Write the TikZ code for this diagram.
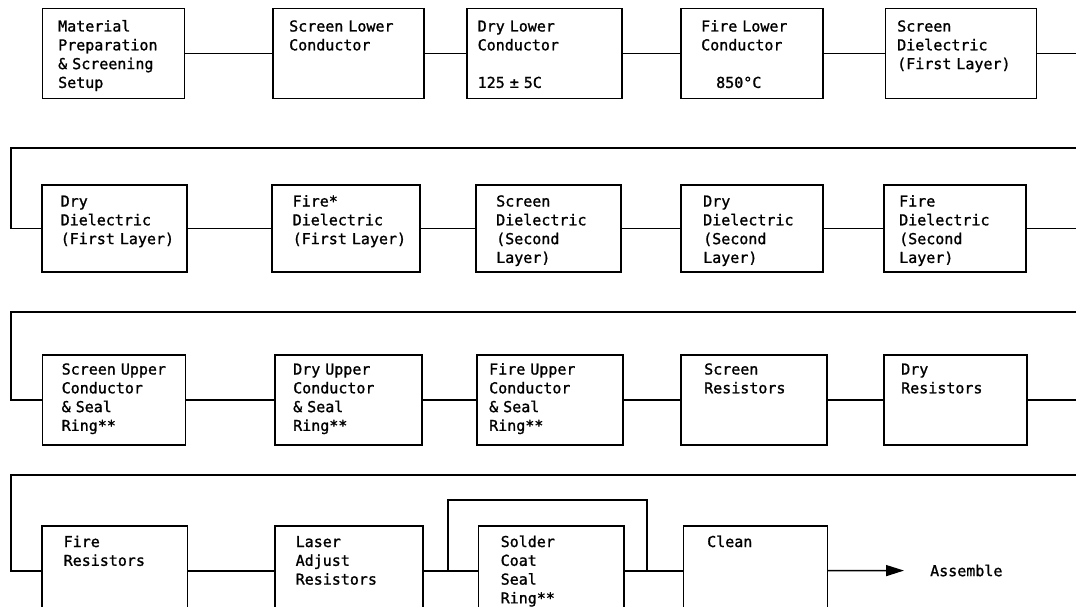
\documentclass[tikz,border=0pt]{standalone}
\usepackage{fontspec}
\newfontfamily\stepfont[UprightFeatures={FakeBold=1.2}, WordSpace={1,0,0}]{DejaVu Sans Mono}
\usetikzlibrary{arrows.meta}

\begin{document}
\begin{tikzpicture}[
  x=1pt, y=-1pt,
  every node/.style={font={\stepfont\fontsize{15}{18.8}\selectfont}},
  box/.style={draw=black, line width=1.5pt, anchor=north west, inner sep=0pt, minimum height=90pt},
  txt/.style={anchor=base west, inner sep=0pt, align=left, text width=130pt},
  conn/.style={line width=1.5pt},
  arr/.style={-{Triangle[length=18pt, width=11pt]}, line width=1.5pt}
]
\useasboundingbox (0,0) rectangle (1076,607);
\fill[white] (0,0) rectangle (1076,607);
\clip (0,0) rectangle (1076,607);

% row 1
\node[box, minimum width=142pt] (matprep) at (41.5,8) {};
\node[box, minimum width=151pt] (scrLow) at (272,8) {};
\node[box, minimum width=155pt] (dryLow) at (466,8) {};
\node[box, minimum width=142pt] (fireLow) at (680,8) {};
\node[box, minimum width=151pt] (scrDiel1) at (884.5,8) {};
\node[txt] (matprepT) at ([shift={(16.5,23.5)}]matprep.north west) {Material\\Preparation\\\& Screening\\Setup};
\node[txt] (scrLowT) at ([shift={(17,23.5)}]scrLow.north west) {Screen Lower\\Conductor};
\node[txt] (dryLowT) at ([shift={(11.5,23.5)}]dryLow.north west) {Dry Lower\\Conductor\\[18.8pt]125 ± 5C};
\node[txt] (fireLowT) at ([shift={(21,23.5)}]fireLow.north west) {Fire Lower\\Conductor\\[18.8pt]\hspace*{15pt}850°C};
\node[txt] (scrDiel1T) at ([shift={(12.5,23.5)}]scrDiel1.north west) {Screen\\Dielectric\\(First Layer)};

% row 2
\node[box, minimum width=145pt, minimum height=87pt] (dryDiel1) at (41,184) {};
\node[box, minimum width=148pt, minimum height=87pt] (fireDiel1) at (271,184) {};
\node[box, minimum width=145pt, minimum height=87pt] (scrDiel2) at (475,184) {};
\node[box, minimum width=142pt, minimum height=87pt] (dryDiel2) at (680,184) {};
\node[box, minimum width=142pt, minimum height=87pt] (fireDiel2) at (883,184) {};
\node[txt] (dryDiel1T) at ([shift={(19.5,22.5)}]dryDiel1.north west) {Dry\\Dielectric\\(First Layer)};
\node[txt] (fireDiel1T) at ([shift={(21.5,22.5)}]fireDiel1.north west) {Fire*\\Dielectric\\(First Layer)};
\node[txt] (scrDiel2T) at ([shift={(21,22.5)}]scrDiel2.north west) {Screen\\Dielectric\\(Second\\Layer)};
\node[txt] (dryDiel2T) at ([shift={(23,22.5)}]dryDiel2.north west) {Dry\\Dielectric\\(Second\\Layer)};
\node[txt] (fireDiel2T) at ([shift={(16,22.5)}]fireDiel2.north west) {Fire\\Dielectric\\(Second\\Layer)};

% row 3
\node[box, minimum width=143pt] (scrUp) at (41.5,354) {};
\node[box, minimum width=147pt] (dryUp) at (274,354) {};
\node[box, minimum width=146pt] (fireUp) at (476,354) {};
\node[box, minimum width=146pt] (scrRes) at (680,354) {};
\node[box, minimum width=143pt] (dryRes) at (883,354) {};
\node[txt] (scrUpT) at ([shift={(20,20.5)}]scrUp.north west) {Screen Upper\\Conductor\\\& Seal\\Ring**};
\node[txt] (dryUpT) at ([shift={(19,20.5)}]dryUp.north west) {Dry Upper\\Conductor\\\& Seal\\Ring**};
\node[txt] (fireUpT) at ([shift={(13,20.5)}]fireUp.north west) {Fire Upper\\Conductor\\\& Seal\\Ring**};
\node[txt] (scrResT) at ([shift={(24,20.5)}]scrRes.north west) {Screen\\Resistors};
\node[txt] (dryResT) at ([shift={(18,20.5)}]dryRes.north west) {Dry\\Resistors};

% row 4
\node[box, minimum width=145.5pt] (fireRes) at (41,525) {};
\node[box, minimum width=148pt] (laser) at (274,525) {};
\node[box, minimum width=145.5pt] (solder) at (477.5,525) {};
\node[box, minimum width=144pt] (clean) at (682.5,525) {};
\node[txt] (fireResT) at ([shift={(22.5,22)}]fireRes.north west) {Fire\\Resistors};
\node[txt] (laserT) at ([shift={(21.5,22)}]laser.north west) {Laser\\Adjust\\Resistors};
\node[txt] (solderT) at ([shift={(23,22)}]solder.north west) {Solder\\Coat\\Seal\\Ring**};
\node[txt] (cleanT) at ([shift={(24.5,22)}]clean.north west) {Clean};
\node[anchor=west, inner sep=0pt] (assemble) at (930,570.5) {Assemble};

% flow
\coordinate (ret1R) at (1100,148);
\coordinate (ret1L) at (11,148);
\coordinate (ret2R) at (1100,312);
\coordinate (ret2L) at (11,312);
\coordinate (ret3R) at (1100,475);
\coordinate (ret3L) at (11,475);
\coordinate (byL) at (448,570.5);
\coordinate (byTop) at (547,500);
\coordinate (byR) at (647,570.5);

\draw[conn] (matprep) -- (scrLow);
\draw[conn] (scrLow) -- (dryLow);
\draw[conn] (dryLow) -- (fireLow);
\draw[conn] (fireLow) -- (scrDiel1);
\draw[conn] (scrDiel1) -| (ret1R) -- (ret1L) |- (dryDiel1);
\draw[conn] (dryDiel1) -- (fireDiel1);
\draw[conn] (fireDiel1) -- (scrDiel2);
\draw[conn] (scrDiel2) -- (dryDiel2);
\draw[conn] (dryDiel2) -- (fireDiel2);
\draw[conn] (fireDiel2) -| (ret2R) -- (ret2L) |- (scrUp);
\draw[conn] (scrUp) -- (dryUp);
\draw[conn] (dryUp) -- (fireUp);
\draw[conn] (fireUp) -- (scrRes);
\draw[conn] (scrRes) -- (dryRes);
\draw[conn] (dryRes) -| (ret3R) -- (ret3L) |- (fireRes);
\draw[conn] (fireRes) -- (laser);
\draw[conn] (laser) -- (solder);
\draw[conn] (solder) -- (clean);
\draw[conn] (byL) |- (byTop) -| (byR);
\draw[arr, shorten >=26pt] (clean) -- (assemble);
\end{tikzpicture}
\end{document}
